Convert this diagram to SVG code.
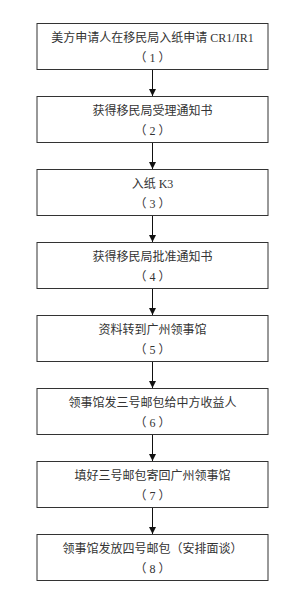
<svg xmlns="http://www.w3.org/2000/svg" width="300" height="604" viewBox="0 0 300 604">
<defs>
<style>
.box{fill:#fff;stroke:#333;stroke-width:1}
.t{font-family:"Liberation Serif","Noto Sans CJK SC",serif;font-size:12px;fill:#333;text-anchor:middle}
.p{font-family:"Noto Sans CJK SC","Liberation Serif",serif;font-size:12px;fill:#333;text-anchor:middle}
.d{font-family:"Liberation Serif",serif}
.c{stroke:#111;stroke-width:1;fill:none}
</style>
<marker id="ah" markerWidth="8" markerHeight="8" refX="7" refY="4" orient="auto" markerUnits="userSpaceOnUse">
<path d="M0,0.5 L7,4 L0,7.5 Z" fill="#111"/>
</marker>
</defs>
<rect width="300" height="604" fill="#fff"/>
<g id="connectors">
<line class="c" x1="152.5" y1="69" x2="152.5" y2="96" marker-end="url(#ah)"/>
<line class="c" x1="152.5" y1="142" x2="152.5" y2="169" marker-end="url(#ah)"/>
<line class="c" x1="152.5" y1="215" x2="152.5" y2="242" marker-end="url(#ah)"/>
<line class="c" x1="152.5" y1="288" x2="152.5" y2="315" marker-end="url(#ah)"/>
<line class="c" x1="152.5" y1="361" x2="152.5" y2="388" marker-end="url(#ah)"/>
<line class="c" x1="152.5" y1="434" x2="152.5" y2="461" marker-end="url(#ah)"/>
<line class="c" x1="152.5" y1="507" x2="152.5" y2="534" marker-end="url(#ah)"/>
</g>
<g id="n1"><rect class="box" x="37" y="23.5" width="231" height="46"/><text class="t" x="152.5" y="41.5">美方申请人在移民局入纸申请 CR1/IR1</text><text class="p" x="152.5" y="61.5">（<tspan class="d" dx="3">1</tspan><tspan dx="3">）</tspan></text></g>
<g id="n2"><rect class="box" x="37" y="96.5" width="231" height="46"/><text class="t" x="152.5" y="114.5">获得移民局受理通知书</text><text class="p" x="152.5" y="134.5">（<tspan class="d" dx="3">2</tspan><tspan dx="3">）</tspan></text></g>
<g id="n3"><rect class="box" x="37" y="169.5" width="231" height="46"/><text class="t" x="152.5" y="187.5">入纸 K3</text><text class="p" x="152.5" y="207.5">（<tspan class="d" dx="3">3</tspan><tspan dx="3">）</tspan></text></g>
<g id="n4"><rect class="box" x="37" y="242.5" width="231" height="46"/><text class="t" x="152.5" y="260.5">获得移民局批准通知书</text><text class="p" x="152.5" y="280.5">（<tspan class="d" dx="3">4</tspan><tspan dx="3">）</tspan></text></g>
<g id="n5"><rect class="box" x="37" y="315.5" width="231" height="46"/><text class="t" x="152.5" y="333.5">资料转到广州领事馆</text><text class="p" x="152.5" y="353.5">（<tspan class="d" dx="3">5</tspan><tspan dx="3">）</tspan></text></g>
<g id="n6"><rect class="box" x="37" y="388.5" width="231" height="46"/><text class="t" x="152.5" y="406.5">领事馆发三号邮包给中方收益人</text><text class="p" x="152.5" y="426.5">（<tspan class="d" dx="3">6</tspan><tspan dx="3">）</tspan></text></g>
<g id="n7"><rect class="box" x="37" y="461.5" width="231" height="46"/><text class="t" x="152.5" y="479.5">填好三号邮包寄回广州领事馆</text><text class="p" x="152.5" y="499.5">（<tspan class="d" dx="3">7</tspan><tspan dx="3">）</tspan></text></g>
<g id="n8"><rect class="box" x="37" y="534.5" width="231" height="46"/><text class="t" x="152.5" y="552.5">领事馆发放四号邮包<tspan font-family="Noto Sans CJK SC">（</tspan>安排面谈<tspan font-family="Noto Sans CJK SC">）</tspan></text><text class="p" x="152.5" y="572.5">（<tspan class="d" dx="3">8</tspan><tspan dx="3">）</tspan></text></g>
</svg>
